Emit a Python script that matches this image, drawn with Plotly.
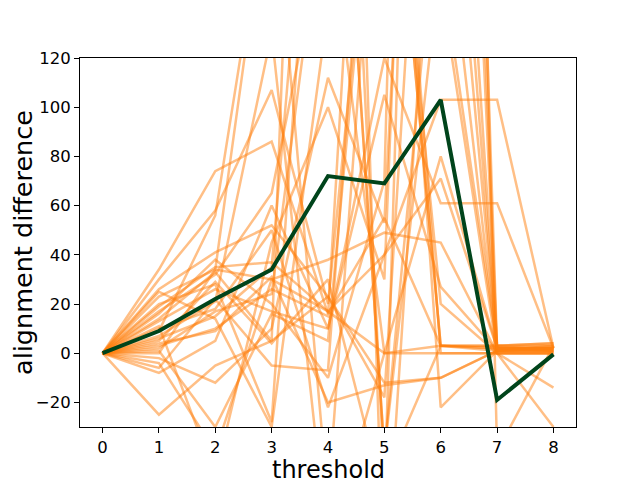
import plotly.graph_objects as go

thresholds = [0, 1, 2, 3, 4, 5, 6, 7, 8]

# mean curve
mean_diff = [0, 9, 22, 34, 72, 69, 103, -19, -0.5]

# individual runs
run_01 = [0, 34, 74, 86, 16, 55, 3, 2, 2]
run_02 = [0, 30, 58, 107, 20, 250, 3, 1, 1]
run_03 = [0, 26, 41, 52, 23, -12, -10, 1, 3]
run_04 = [0, 23, 34, 30, 38, 49, 45, 0, 0]
run_05 = [0, 19, 35, 37, 17, 40, 71, 2, 2]
run_06 = [0, 17, 32, 65, 180, 0, 3, 3, 4]
run_07 = [0, 13, 26, 17, 10, 105, 27, 1, 1]
run_08 = [0, 10, 18, 50, -22, 40, 103, 103, 2]
run_09 = [0, 6, 15, 35, 300, -40, 200, 1, 2]
run_10 = [0, 3, 10, 26, 15, 400, 150, 0, 0]
run_11 = [0, -2, -12, 10, 112, 53, 500, 2, 1]
run_12 = [0, -6, 22, -5, -7, 300, 0, 0, 0]
run_13 = [0, -25, -5, 5, 23, -18, 350, 3, 3]
run_14 = [0, 0, 34, 200, -60, 250, 3, 3, 4]
run_15 = [0, -4, -40, 30, 17, 0, 0, 0, -30]
run_16 = [0, 9, 56, 200, 400, -50, 3, 2, 2]
run_17 = [0, 4, 9, 31, -20, -13, -10, 1, 1]
run_18 = [0, 14, 33, 5, 600, -100, 250, 2, 3]
run_19 = [0, 20, 28, -28, 300, -40, 160, 3, 1]
run_20 = [0, 11, -50, 45, 100, 30, 600, 0, 0]
run_21 = [0, 7, 21, 130, -80, 0, 80, 2, 2]
run_22 = [0, 2, 17, 24, 200, 150, 300, 1, 1]
run_23 = [0, -8, 5, 60, 10, 120, 61, 61, 2]
run_24 = [0, 25, 14, -30, 140, 300, -22, 1, 2]
run_25 = [0, 16, 38, 20, -10, 70, 900, -40, 3]
run_26 = [0, 1, -30, 16, 5, 250, 20, 0, -14]
run_27 = [0, 5, 29, 4, 30, -60, 700, 2, 2]

runs = [run_01, run_02, run_03, run_04, run_05, run_06, run_07, run_08, run_09,
        run_10, run_11, run_12, run_13, run_14, run_15, run_16, run_17, run_18,
        run_19, run_20, run_21, run_22, run_23, run_24, run_25, run_26, run_27]

fig = go.Figure()

for r in runs:
    fig.add_trace(go.Scatter(
        x=thresholds, y=r, mode="lines",
        line=dict(color="rgba(255,127,14,0.5)", width=2.5),
        hoverinfo="skip",
    ))

fig.add_trace(go.Scatter(
    x=thresholds, y=mean_diff, mode="lines",
    line=dict(color="#00441b", width=4),
))

axis_style = dict(
    showline=True, mirror=True, linecolor="black", linewidth=1,
    ticks="outside", ticklen=5, tickcolor="black", showgrid=False,
    zeroline=False, automargin=False,
    tickfont=dict(size=16.5, color="black"),
)

# page body adds 8px, so margins are shifted to keep the axes box in place
fig.update_layout(
    width=640, height=480,
    margin=dict(l=72, r=72, t=50, b=61),
    paper_bgcolor="white", plot_bgcolor="white",
    showlegend=False,
    font=dict(family="DejaVu Sans", color="black"),
    xaxis=dict(range=[-0.4, 8.4], tickvals=thresholds, **axis_style),
    yaxis=dict(range=[-30, 120], tickvals=[-20, 0, 20, 40, 60, 80, 100, 120],
               title=dict(text="alignment difference", font=dict(size=25.5), standoff=8),
               **axis_style),
)

# x label as annotation so it sits just inside the bottom edge
fig.add_annotation(
    text="threshold", xref="paper", yref="paper", x=0.5, y=0,
    xanchor="center", yanchor="top", yshift=-27, showarrow=False,
    font=dict(size=24, color="black"),
)

fig.write_html("out.html")
